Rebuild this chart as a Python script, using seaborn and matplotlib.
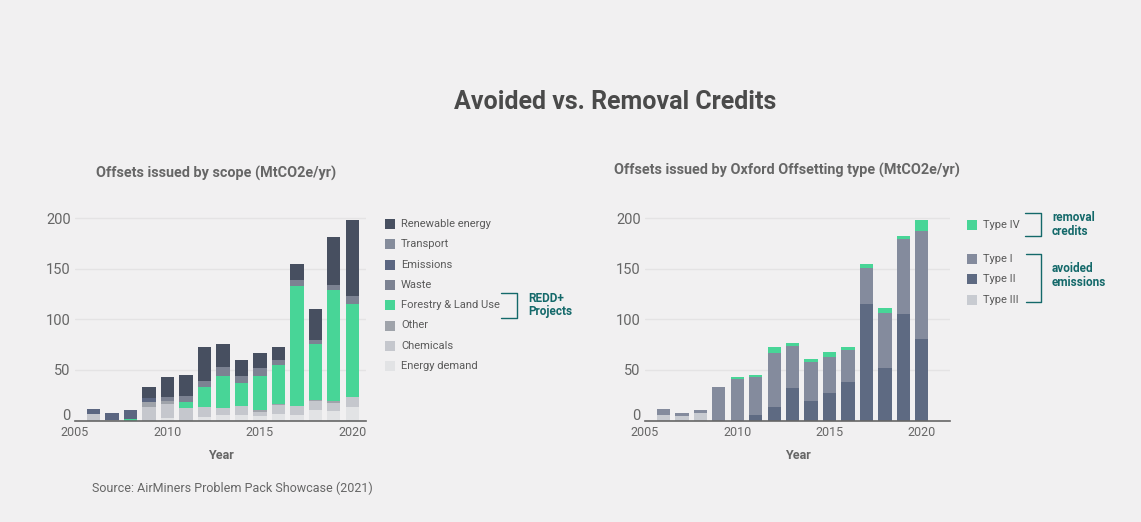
import numpy as np
import pandas as pd
import seaborn as sns
import matplotlib.pyplot as plt
import matplotlib.transforms as mtransforms
from matplotlib.patches import Rectangle
from matplotlib.lines import Line2D


years = list(range(2006, 2021))

# left chart: offsets by scope (MtCO2e/yr)
energy_demand = [0, 0, 0, 0, 2, 0, 3.6, 5.2, 5.2, 4.3, 6.2, 5.5, 9.9, 9.2, 13.5]
chemicals = [6, 0.5, 0, 13, 14.8, 11.9, 9.9, 6.7, 9, 4.6, 8.7, 9, 8.9, 8.6, 9.9]
other = [0, 0, 0, 5, 2.3, 0, 0, 0, 0, 1.3, 1.2, 0, 1.3, 1.3, 0]
forestry = [0, 0, 1.5, 0, 0, 6.5, 19.8, 32.3, 23, 33.7, 38.9, 118.8, 55.7, 109.9, 92]
waste = [0, 0, 0, 0, 3.7, 5.6, 5.9, 8.3, 7, 7.6, 4.7, 5.3, 3.7, 4.7, 8]
emissions = [5.6, 6.8, 9, 4.6, 0, 0, 0, 0, 0, 0, 0, 0, 0, 0, 0]
transport = [0] * 15
renewable = [0, 0, 0, 10.3, 20.4, 21.5, 33.1, 22.7, 15.5, 15.4, 12.6, 16.2, 31, 47.8, 74.9]

# right chart: offsets by Oxford Offsetting type
type_iv = [0, 0, 0, 0, 1.7, 1.7, 5.6, 3, 3.2, 4.9, 2.6, 3.6, 5, 2.6, 10.5]
type_i = [6.3, 3, 3, 33, 40.9, 37.9, 53.8, 41.6, 38.3, 34.7, 31.7, 36, 54.4, 74.3, 106.9]
type_ii = [0, 0, 0, 0, 0, 5.3, 13.2, 32, 19.5, 27.7, 38.3, 115.2, 51.5, 105.6, 80.9]
type_iii = [5.3, 4.3, 7.6, 0, 0, 0, 0, 0, 0, 0, 0, 0, 0, 0, 0]

scope_labels = ['Renewable energy', 'Transport', 'Emissions', 'Waste',
                'Forestry & Land Use', 'Other', 'Chemicals', 'Energy demand']
scope_values = [renewable, transport, emissions, waste, forestry, other, chemicals, energy_demand]
scope_colors = ['#474f60', '#858c9b', '#5b6681', '#7c8292', '#48d597', '#9fa3aa', '#c5c7cd', '#e2e3e5']

type_labels = ['Type IV', 'Type I', 'Type II', 'Type III']
type_values = [type_iv, type_i, type_ii, type_iii]
type_colors = ['#48d597', '#848b9d', '#5e6a82', '#c8cbd1']

left_df = pd.DataFrame([(y, lab, v) for lab, vals in zip(scope_labels, scope_values)
                        for y, v in zip(years, vals)], columns=['year', 'scope', 'value'])
right_df = pd.DataFrame([(y, lab, v) for lab, vals in zip(type_labels, type_values)
                         for y, v in zip(years, vals)], columns=['year', 'type', 'value'])

W, H = 1141, 522
BG = '#f1f0f1'
GREY = '#666666'
TEAL = '#14696a'

sns.set_theme(style='white')
plt.rcParams['font.family'] = ['Roboto', 'DejaVu Sans']

fig = plt.figure(figsize=(W / 100, H / 100), dpi=100, facecolor=BG)


def px(x, y):
    return x / W, 1 - y / H


def style_axis(ax, xlim):
    ax.set_facecolor(BG)
    ax.set_xlim(*xlim)
    ax.set_ylim(0, 205)
    ax.set_yticks([0, 50, 100, 150, 200])
    ax.set_xticks([2005, 2010, 2015, 2020])
    ax.grid(axis='y', color='#e4e3e4', linewidth=1)
    ax.set_axisbelow(True)
    for s in ['top', 'right', 'left']:
        ax.spines[s].set_visible(False)
    ax.spines['bottom'].set_color(GREY)
    ax.spines['bottom'].set_linewidth(1.2)
    ax.tick_params(axis='y', length=0, pad=3, labelsize=10.5, labelcolor=GREY)
    ax.tick_params(axis='x', length=0, pad=4, labelsize=9, labelcolor=GREY)
    ax.set_xlabel('Year', fontsize=9, fontweight='bold', color=GREY, labelpad=7.5)
    ax.set_ylabel('')
    # lift the "0" label a little so it clears the year labels
    lift = mtransforms.ScaledTranslation(0, 4 / 72, fig.dpi_scale_trans)
    zero = ax.get_yticklabels()[0]
    zero.set_transform(zero.get_transform() + lift)


# left chart
ax1 = fig.add_axes([75 / W, 1 - 420.5 / H, (366 - 75) / W, (420.5 - 213.3) / H])
sns.histplot(data=left_df, x='year', weights='value', hue='scope', hue_order=scope_labels,
             palette=scope_colors, multiple='stack', discrete=True, shrink=0.72,
             linewidth=0, alpha=1, legend=False, ax=ax1)
style_axis(ax1, (2005.09, 2020.74))

# right chart
ax2 = fig.add_axes([645 / W, 1 - 420.5 / H, (950 - 645) / W, (420.5 - 213.3) / H])
sns.histplot(data=right_df, x='year', weights='value', hue='type', hue_order=type_labels,
             palette=type_colors, multiple='stack', discrete=True, shrink=0.72,
             linewidth=0, alpha=1, legend=False, ax=ax2)
style_axis(ax2, (2005.0, 2021.53))

# titles
fig.text(*px(615, 102), 'Avoided vs. Removal Credits', ha='center', va='center',
         fontsize=18, fontweight='bold', color='#4a4a4a')
fig.text(*px(96, 173), 'Offsets issued by scope (MtCO2e/yr)', ha='left', va='center',
         fontsize=10.4, fontweight='bold', color=GREY)
fig.text(*px(614, 170), 'Offsets issued by Oxford Offsetting type (MtCO2e/yr)', ha='left',
         va='center', fontsize=10.4, fontweight='bold', color=GREY)
fig.text(*px(92, 488), 'Source: AirMiners Problem Pack Showcase (2021)', ha='left',
         va='center', fontsize=9, color=GREY)


def legend_row(x, y, color, label):
    fig.add_artist(Rectangle(px(x, y + 5), 10 / W, 10 / H, transform=fig.transFigure,
                             facecolor=color, edgecolor='none'))
    fig.text(*px(x + 16, y), label, ha='left', va='center', fontsize=8, color='#5a5a5a')


def bracket(x0, x1, y0, y1):
    xs = [x0, x1, x1, x0]
    ys = [y0, y0, y1, y1]
    fig.add_artist(Line2D([px(x, 0)[0] for x in xs], [px(0, y)[1] for y in ys],
                          transform=fig.transFigure, color=TEAL, linewidth=1))


for i, (lab, col) in enumerate(zip(scope_labels, scope_colors)):
    legend_row(385, 224 + i * 20.3, col, lab)

bracket(501, 517, 293, 318)
fig.text(*px(528, 305), 'REDD+\nProjects', ha='left', va='center', fontsize=8.5,
         fontweight='bold', color=TEAL, linespacing=1.1)

legend_row(967, 225, type_colors[0], type_labels[0])
for i, (lab, col) in enumerate(zip(type_labels[1:], type_colors[1:])):
    legend_row(967, 259 + i * 20.3, col, lab)

bracket(1025, 1041, 213, 236)
fig.text(*px(1052, 224), 'removal\ncredits', ha='left', va='center', fontsize=8.5,
         fontweight='bold', color=TEAL, linespacing=1.1)
bracket(1026, 1041, 254, 302)
fig.text(*px(1052, 275), 'avoided\nemissions', ha='left', va='center', fontsize=8.5,
         fontweight='bold', color=TEAL, linespacing=1.1)

fig.savefig('out.png', dpi=100, facecolor=BG)
